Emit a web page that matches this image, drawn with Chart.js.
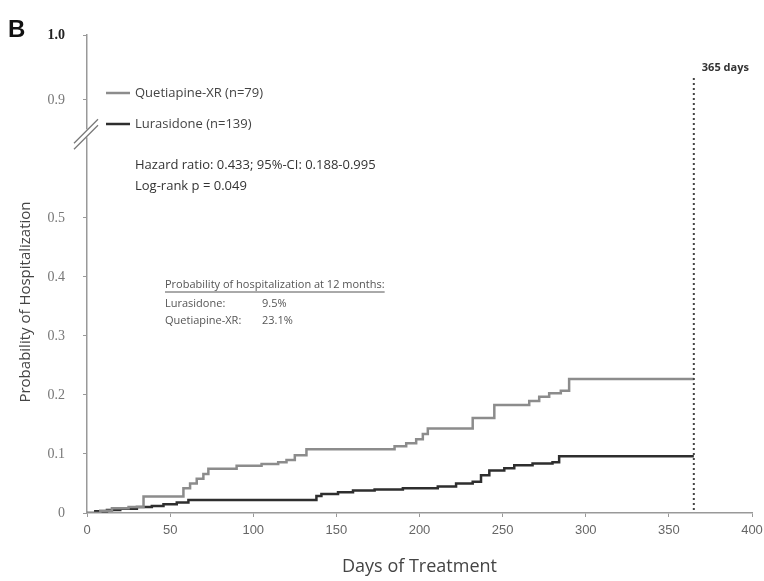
<!DOCTYPE html>
<html>
<head>
<meta charset="utf-8">
<title>Probability of Hospitalization</title>
<script src="https://cdn.jsdelivr.net/npm/chart.js@4.4.1/dist/chart.umd.min.js"></script>
<style>
  html, body { margin: 0; padding: 0; background: #fff; }
  #wrap { width: 764px; height: 581px; }
</style>
</head>
<body>
<div id="wrap"><canvas id="kmChart" width="764" height="581"></canvas></div>
<script>
// Kaplan-Meier style curves (days, cumulative probability)
const quetDays = [0, 8, 15, 25, 34, 58, 62, 66, 70, 73, 90, 105, 115, 120, 125, 132, 185, 192, 198, 202, 205, 232, 245, 266, 272, 278, 285, 290, 365];
const quetProb = [0, 0.004, 0.008, 0.01, 0.028, 0.042, 0.05, 0.058, 0.066, 0.075, 0.08, 0.083, 0.086, 0.09, 0.098, 0.108, 0.113, 0.118, 0.125, 0.134, 0.143, 0.161, 0.183, 0.19, 0.197, 0.203, 0.207, 0.227, 0.227];

const lurDays = [0, 5, 12, 20, 30, 39, 46, 54, 61, 138, 141, 151, 160, 173, 190, 211, 222, 232, 237, 242, 251, 257, 268, 280, 284, 365];
const lurProb = [0, 0.003, 0.005, 0.007, 0.01, 0.012, 0.015, 0.018, 0.022, 0.029, 0.032, 0.035, 0.038, 0.04, 0.042, 0.045, 0.05, 0.053, 0.064, 0.072, 0.076, 0.081, 0.084, 0.086, 0.096, 0.096];

const seriesNames = ['Quetiapine-XR (n=79)', 'Lurasidone (n=139)'];

// broken y axis: tick positions on the drawn scale and the labels shown there
const yTickPos = [0, 0.1, 0.2, 0.3, 0.4, 0.5, 0.7, 0.81];
const yTickLabels = ['0', '0.1', '0.2', '0.3', '0.4', '0.5', '0.9', '1.0'];

const markerDay = 365;
const statsLines = ['Hazard ratio: 0.433; 95%-CI: 0.188-0.995', 'Log-rank p = 0.049'];
const boxTitle = 'Probability of hospitalization at 12 months:';
const boxLines = [['Lurasidone:', '9.5%'], ['Quetiapine-XR:', '23.1%']];

const quetColor = '#8c8c8c';
const lurColor = '#2e2e2e';

function toPoints(xs, ys) {
    return xs.map((x, i) => ({ x: x, y: ys[i] }));
}

const overlay = {
    id: 'overlay',
    afterDraw(chart) {
        const ctx = chart.ctx;
        const xs = chart.scales.x;
        const ys = chart.scales.y;
        ctx.save();

        // panel letter
        ctx.fillStyle = '#111';
        ctx.font = 'bold 24px "Liberation Sans"';
        ctx.textBaseline = 'middle';
        ctx.textAlign = 'left';
        ctx.fillText('B', 8, 30);

        // y axis title
        ctx.save();
        ctx.translate(26, 302);
        ctx.rotate(-Math.PI / 2);
        ctx.textAlign = 'center';
        ctx.fillStyle = '#444';
        ctx.font = '15px "Open Sans"';
        ctx.fillText('Probability of Hospitalization', 0, 0);
        ctx.restore();

        // axis break marks
        const by = ys.getPixelForValue(0.64);
        const ax = xs.left;
        ctx.strokeStyle = '#fff';
        ctx.lineWidth = 5;
        ctx.beginPath();
        ctx.moveTo(ax, by - 6);
        ctx.lineTo(ax, by + 2);
        ctx.stroke();
        ctx.strokeStyle = '#777';
        ctx.lineWidth = 1.3;
        [-4, 2].forEach(off => {
            ctx.beginPath();
            ctx.moveTo(ax - 13, by + 12 + off);
            ctx.lineTo(ax + 11, by - 12 + off);
            ctx.stroke();
        });

        // legend
        ctx.font = '13px "Open Sans"';
        ctx.textAlign = 'left';
        ctx.textBaseline = 'middle';
        const legY = [93, 124];
        const legCol = [quetColor, lurColor];
        seriesNames.forEach((name, i) => {
            ctx.strokeStyle = legCol[i];
            ctx.lineWidth = 2.5;
            ctx.beginPath();
            ctx.moveTo(106, legY[i]);
            ctx.lineTo(130, legY[i]);
            ctx.stroke();
            ctx.fillStyle = '#444';
            ctx.fillText(name, 135, legY[i]);
        });

        // stats
        ctx.fillStyle = '#333';
        ctx.fillText(statsLines[0], 135, 165);
        ctx.fillText(statsLines[1], 135, 186);

        // 12-month box
        ctx.font = '11px "Open Sans"';
        ctx.fillStyle = '#555';
        ctx.fillText(boxTitle, 165, 285);
        const tw = ctx.measureText(boxTitle).width;
        ctx.strokeStyle = '#555';
        ctx.lineWidth = 1;
        ctx.beginPath();
        ctx.moveTo(165, 292);
        ctx.lineTo(165 + tw, 292);
        ctx.stroke();
        boxLines.forEach((row, i) => {
            const yy = 304 + i * 17;
            ctx.fillText(row[0], 165, yy);
            ctx.fillText(row[1], 262, yy);
        });

        // 365 days marker
        const mx = xs.getPixelForValue(markerDay);
        ctx.strokeStyle = '#444';
        ctx.lineWidth = 2;
        ctx.setLineDash([2, 3]);
        ctx.beginPath();
        ctx.moveTo(mx, 78);
        ctx.lineTo(mx, ys.getPixelForValue(0));
        ctx.stroke();
        ctx.setLineDash([]);
        ctx.fillStyle = '#333';
        ctx.font = 'bold 11px "Open Sans"';
        ctx.fillText(markerDay + ' days', mx + 8, 68);

        ctx.restore();
    }
};

const ctx = document.getElementById('kmChart').getContext('2d');
const kmChart = new Chart(ctx, {
    type: 'line',
    data: {
        datasets: [{
            label: seriesNames[0],
            data: toPoints(quetDays, quetProb),
            borderColor: quetColor,
            borderWidth: 2.5,
            stepped: 'before',
            pointRadius: 0,
            fill: false
        }, {
            label: seriesNames[1],
            data: toPoints(lurDays, lurProb),
            borderColor: lurColor,
            borderWidth: 2.5,
            stepped: 'before',
            pointRadius: 0,
            fill: false
        }]
    },
    options: {
        responsive: false,
        animation: false,
        layout: { padding: { left: 0, right: 12, top: 35, bottom: 0 } },
        plugins: {
            legend: { display: false },
            tooltip: { enabled: false }
        },
        scales: {
            x: {
                type: 'linear',
                min: 0,
                max: 400,
                ticks: {
                    stepSize: 50,
                    color: '#666',
                    padding: 6,
                    font: { family: 'Liberation Sans', size: 13 }
                },
                grid: { drawOnChartArea: false, tickLength: 4, color: '#999' },
                border: { color: '#999', width: 1.5 },
                title: {
                    display: true,
                    text: 'Days of Treatment',
                    color: '#444',
                    font: { family: 'Open Sans', size: 18 },
                    padding: { top: 0, bottom: 3 }
                },
                afterFit: s => { s.height = 68; s.paddingRight = 0; s.paddingLeft = 0; }
            },
            y: {
                min: 0,
                max: 0.81,
                afterBuildTicks: s => { s.ticks = yTickPos.map(v => ({ value: v })); },
                ticks: {
                    padding: 18,
                    color: c => (c.tick && c.tick.value === 0.81 ? '#222' : '#777'),
                    font: c => ({ family: 'Liberation Serif', size: 14, weight: (c.tick && c.tick.value === 0.81 ? 'bold' : 'normal') }),
                    callback: (value, i) => yTickLabels[i]
                },
                grid: { drawOnChartArea: false, tickLength: 4, color: '#999' },
                border: { color: '#999', width: 1.5 },
                afterFit: s => { s.width = 87; s.paddingTop = 0; s.paddingBottom = 0; }
            }
        }
    },
    plugins: [overlay]
});
</script>
</body>
</html>
